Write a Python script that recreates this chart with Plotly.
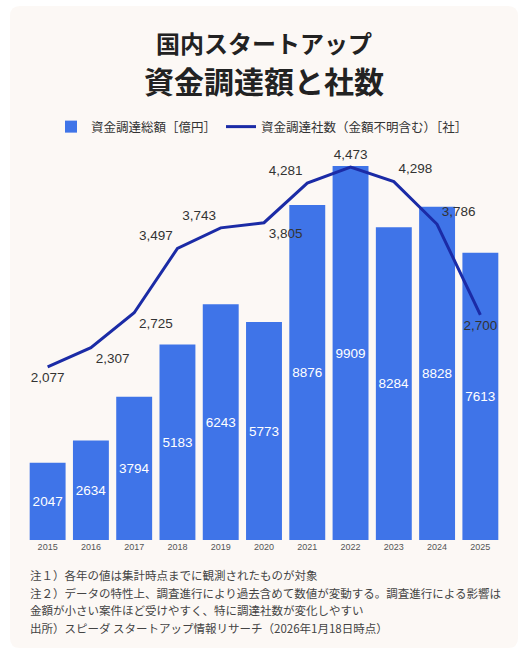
import plotly.graph_objects as go

years = ["2015", "2016", "2017", "2018", "2019", "2020", "2021", "2022", "2023", "2024", "2025"]
amounts = [2047, 2634, 3794, 5183, 6243, 5773, 8876, 9909, 8284, 8828, 7613]  # 億円
companies = [2077, 2307, 2725, 3497, 3743, 3805, 4281, 4473, 4298, 3786, 2700]  # 社
label_pos = ["bottom center", "bottom right", "bottom right", "top left", "top left",
             "bottom right", "top left", "top center", "top right", "top right", "bottom center"]

title1 = "国内スタートアップ"
title2 = "資金調達額と社数"
notes = [
    "注１）各年の値は集計時点までに観測されたものが対象",
    "注２）データの特性上、調査進行により過去含めて数値が変動する。調査進行による影響は",
    "金額が小さい案件ほど受けやすく、特に調達社数が変化しやすい",
    "出所）スピーダ スタートアップ情報リサーチ（2026年1月18日時点）",
]

W, H = 530, 652
ML, MR, MT, MB = 26, 28, 150, 112
PW = W - ML - MR
PH = H - MT - MB

JP = "Noto Sans CJK JP"
NUM = "Liberation Sans, Arial, sans-serif"
BAR_COLOR = "#3f74e8"
LINE_COLOR = "#1b2ba6"


def px_x(x):
    return (x - ML) / PW


def px_y(y):
    return (H - MB - y) / PH


fig = go.Figure()

fig.add_trace(go.Bar(
    x=years, y=amounts, name="資金調達総額［億円］",
    marker=dict(color=BAR_COLOR, line=dict(width=0)),
    text=[str(v) for v in amounts], textposition="inside",
    insidetextanchor="middle", textangle=0, constraintext="none",
    insidetextfont=dict(color="white", size=13.5, family=NUM),
    hoverinfo="x+y",
))

fig.add_trace(go.Scatter(
    x=years, y=companies, name="資金調達社数（金額不明含む）［社］",
    yaxis="y2", mode="lines+markers+text",
    line=dict(color=LINE_COLOR, width=3),
    marker=dict(size=6, color="rgba(0,0,0,0)"),
    text=[f"{v:,}" for v in companies], textposition=label_pos,
    textfont=dict(color="#333333", size=13.5, family=NUM),
))

# 背景パネル（角丸）
x0, x1, y0, y1, r = 10, 518, 6, 648, 10
path = (f"M {px_x(x0 + r)} {px_y(y0)} L {px_x(x1 - r)} {px_y(y0)} "
        f"Q {px_x(x1)} {px_y(y0)} {px_x(x1)} {px_y(y0 + r)} "
        f"L {px_x(x1)} {px_y(y1 - r)} Q {px_x(x1)} {px_y(y1)} {px_x(x1 - r)} {px_y(y1)} "
        f"L {px_x(x0 + r)} {px_y(y1)} Q {px_x(x0)} {px_y(y1)} {px_x(x0)} {px_y(y1 - r)} "
        f"L {px_x(x0)} {px_y(y0 + r)} Q {px_x(x0)} {px_y(y0)} {px_x(x0 + r)} {px_y(y0)} Z")
fig.add_shape(type="path", path=path, xref="paper", yref="paper",
              fillcolor="#fcf8f5", line=dict(width=0), layer="below")

annotations = [
    dict(text=f"<b>{title1}</b>", x=px_x(264), xref="paper", y=px_y(42), yref="paper",
         showarrow=False, xanchor="center", yanchor="middle",
         font=dict(family=JP, size=24, color="#222222")),
    dict(text=f"<b>{title2}</b>", x=px_x(264), xref="paper", y=px_y(80), yref="paper",
         showarrow=False, xanchor="center", yanchor="middle",
         font=dict(family=JP, size=30, color="#222222")),
]
for i, line in enumerate(notes):
    annotations.append(dict(
        text=line, x=px_x(28), xref="paper", y=px_y(575 + i * 17.5), yref="paper",
        showarrow=False, xanchor="left", yanchor="middle",
        font=dict(family=JP, size=11.5, color="#444444"),
    ))

fig.update_layout(
    width=W, height=H,
    margin=dict(l=ML, r=MR, t=MT, b=MB),
    paper_bgcolor="white", plot_bgcolor="rgba(0,0,0,0)",
    bargap=0.17,
    showlegend=True,
    legend=dict(orientation="h", x=px_x(262), xanchor="center", xref="paper",
                y=px_y(127), yanchor="middle", yref="paper",
                font=dict(family=JP, size=12.5, color="#333333"),
                itemwidth=30, bgcolor="rgba(0,0,0,0)", traceorder="normal"),
    xaxis=dict(type="category", range=[-0.5, 10.5], showgrid=False, zeroline=False,
               showline=False, ticks="",
               tickfont=dict(family=NUM, size=9, color="#555555")),
    yaxis=dict(range=[0, 10333], visible=False, showgrid=False),
    yaxis2=dict(range=[0, 4677], overlaying="y", visible=False, showgrid=False),
    annotations=annotations,
    uniformtext=dict(mode=False),
)

# ページ既定の余白をなくして図を左上に合わせる
fig.write_html("out.html", config={"displayModeBar": False},
               post_script="document.body.style.margin='0';")
